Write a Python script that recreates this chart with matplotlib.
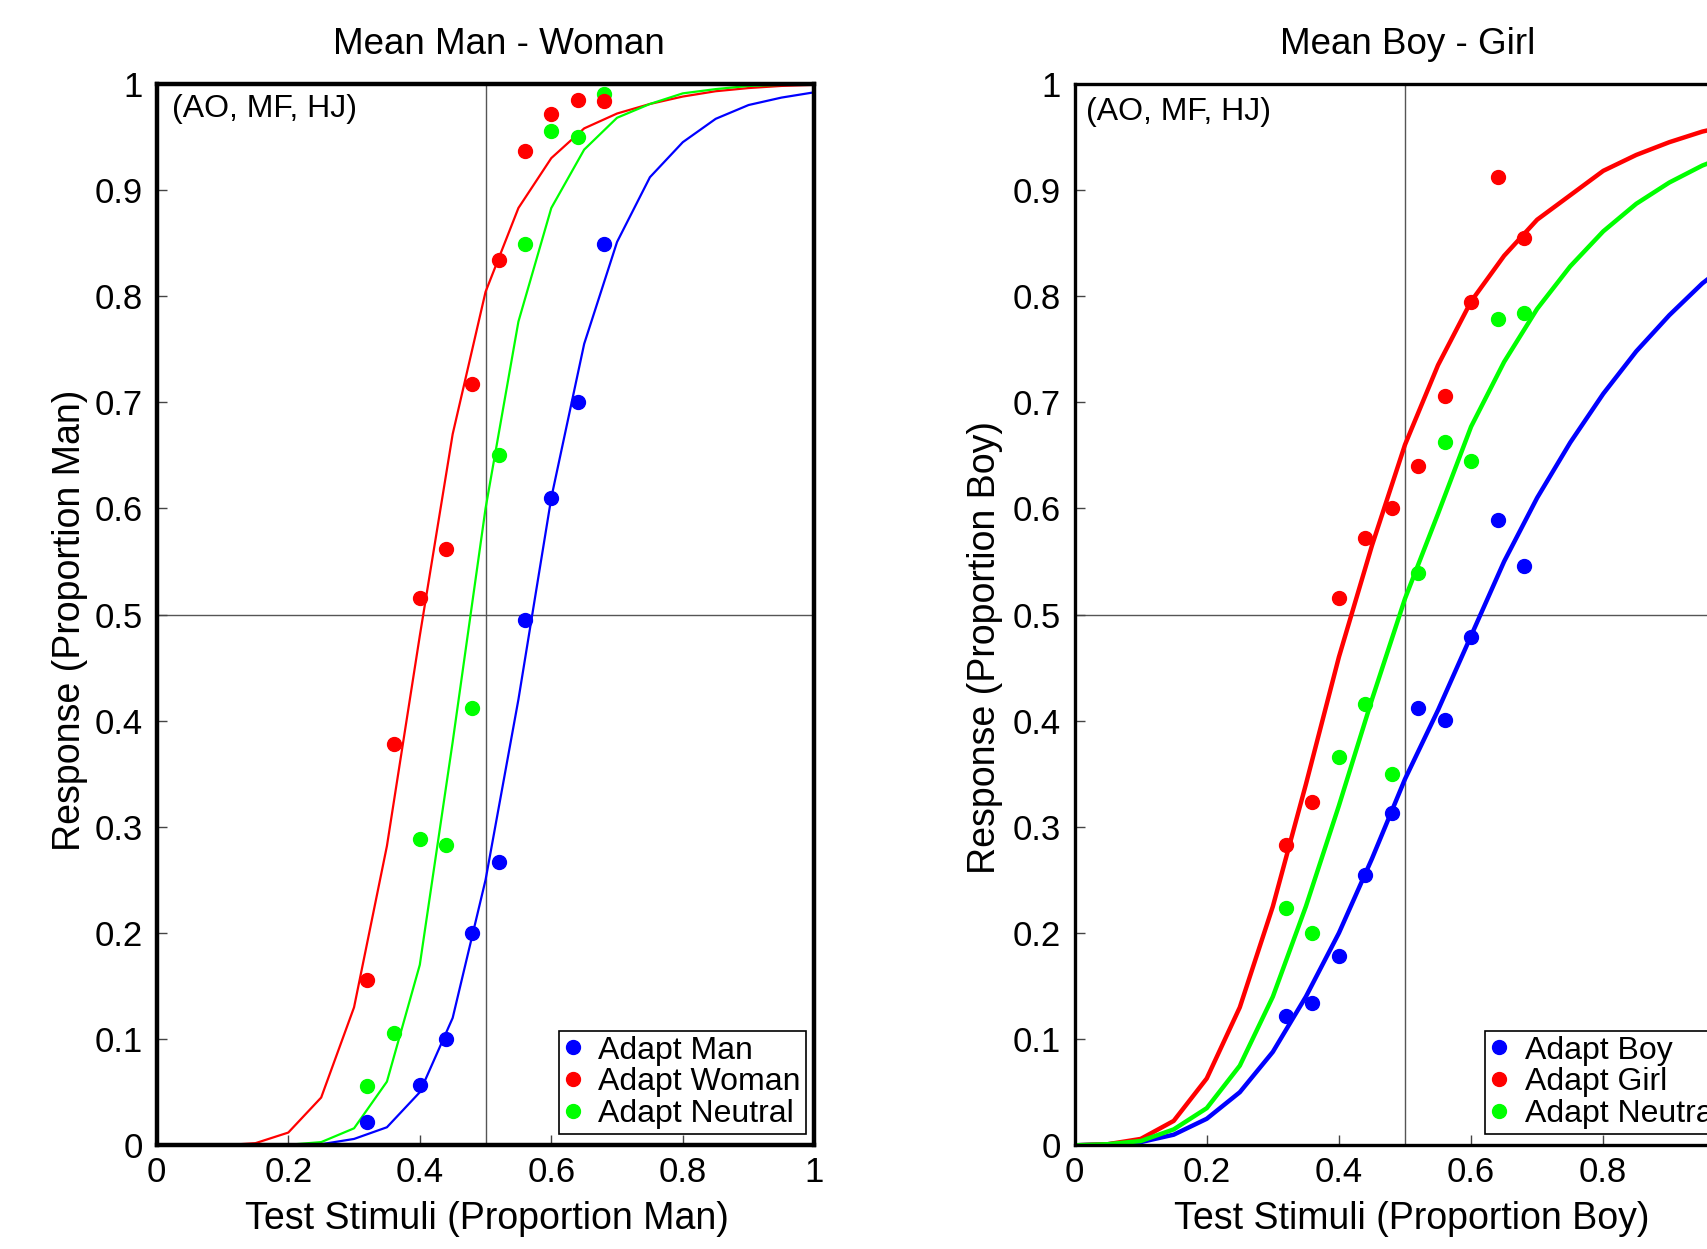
import matplotlib
matplotlib.use("Agg")
import matplotlib.pyplot as plt
from matplotlib.lines import Line2D

plt.rcParams['font.family'] = ['Liberation Sans', 'DejaVu Sans']

# ---------------- data ----------------
test_x = [0.32, 0.36, 0.40, 0.44, 0.48, 0.52, 0.56, 0.60, 0.64, 0.68]
fit_x = [0.00, 0.05, 0.10, 0.15, 0.20, 0.25, 0.30, 0.35, 0.40, 0.45, 0.50,
         0.55, 0.60, 0.65, 0.70, 0.75, 0.80, 0.85, 0.90, 0.95, 1.00]

# Panel 1: Man - Woman
man_x = [0.32, 0.40, 0.44, 0.48, 0.52, 0.56, 0.60, 0.64, 0.68]
man_pts = [0.022, 0.057, 0.100, 0.200, 0.267, 0.495, 0.610, 0.700, 0.849]
woman_pts = [0.156, 0.378, 0.516, 0.562, 0.717, 0.834, 0.937, 0.972, 0.985, 0.984]
neutral1_pts = [0.056, 0.106, 0.289, 0.283, 0.412, 0.650, 0.849, 0.956, 0.950, 0.990]

man_fit = [0, 0, 0, 0, 0, 0.001, 0.006, 0.017, 0.050, 0.120, 0.250,
           0.420, 0.610, 0.755, 0.851, 0.912, 0.945, 0.967, 0.980, 0.987, 0.992]
woman_fit = [0, 0, 0, 0.002, 0.012, 0.045, 0.130, 0.282, 0.480, 0.670, 0.804,
             0.883, 0.930, 0.958, 0.972, 0.981, 0.988, 0.993, 0.996, 0.998, 0.999]
neutral1_fit = [0, 0, 0, 0, 0.0005, 0.003, 0.016, 0.060, 0.170, 0.380, 0.600,
                0.776, 0.883, 0.938, 0.968, 0.981, 0.991, 0.995, 0.998, 0.999, 1.0]

# Panel 2: Boy - Girl
boy_pts = [0.122, 0.134, 0.178, 0.255, 0.313, 0.412, 0.401, 0.479, 0.589, 0.546]
girl_pts = [0.283, 0.323, 0.516, 0.572, 0.600, 0.640, 0.706, 0.794, 0.912, 0.855]
neutral2_pts = [0.224, 0.200, 0.366, 0.416, 0.350, 0.539, 0.663, 0.645, 0.778, 0.784]

boy_fit = [0, 0.001, 0.003, 0.010, 0.025, 0.050, 0.088, 0.140, 0.200, 0.270, 0.345,
           0.410, 0.480, 0.550, 0.610, 0.662, 0.708, 0.748, 0.782, 0.812, 0.836]
girl_fit = [0, 0.001, 0.006, 0.023, 0.063, 0.130, 0.225, 0.340, 0.460, 0.565, 0.660,
            0.735, 0.795, 0.838, 0.872, 0.895, 0.918, 0.933, 0.945, 0.955, 0.962]
neutral2_fit = [0, 0.001, 0.004, 0.015, 0.035, 0.075, 0.140, 0.225, 0.320, 0.420, 0.515,
                0.595, 0.677, 0.738, 0.788, 0.828, 0.861, 0.887, 0.907, 0.923, 0.935]

xticks = [0, 0.2, 0.4, 0.6, 0.8, 1.0]
xticklabels1 = ['0', '0.2', '0.4', '0.6', '0.8', '1']
xticklabels2 = ['0', '0.2', '0.4', '0.6', '0.8', '']   # "1" falls outside the figure
yticks = [0, 0.1, 0.2, 0.3, 0.4, 0.5, 0.6, 0.7, 0.8, 0.9, 1.0]
yticklabels = ['0', '0.1', '0.2', '0.3', '0.4', '0.5', '0.6', '0.7', '0.8', '0.9', '1']

BLUE, RED, GREEN = '#0000ff', '#ff0000', '#00ff00'

fig = plt.figure(figsize=(17.07, 12.49), dpi=100)
W, H = 1707.0, 1249.0


def make_axes(left_px, right_px, top_px, bottom_px):
    return fig.add_axes([left_px / W, 1 - bottom_px / H,
                         (right_px - left_px) / W, (bottom_px - top_px) / H])


ax1 = make_axes(156.8, 814.3, 83.8, 1145.3)
ax2 = make_axes(1074.6, 1735.4, 83.8, 1145.3)


def style(ax, spine_w, xlabels):
    ax.set_xlim(0, 1)
    ax.set_ylim(0, 1)
    ax.set_xticks(xticks)
    ax.set_xticklabels(xlabels)
    ax.set_yticks(yticks)
    ax.set_yticklabels(yticklabels)
    ax.tick_params(direction='in', length=7, width=1, color='#444444',
                   labelsize=25, top=False, right=False)
    ax.tick_params(axis='x', pad=8)
    ax.tick_params(axis='y', pad=10)
    for s in ax.spines.values():
        s.set_linewidth(spine_w)
        s.set_color('black')
    ax.axvline(0.5, color='#555555', lw=1.0, zorder=1)
    ax.axhline(0.5, color='#555555', lw=1.0, zorder=1)


style(ax1, 3.2, xticklabels1)
style(ax2, 2.4, xticklabels2)

# Panel 1
lw1 = 1.6
ax1.plot(fit_x, man_fit, color=BLUE, lw=lw1, zorder=2)
ax1.plot(fit_x, woman_fit, color=RED, lw=lw1, zorder=2)
ax1.plot(fit_x, neutral1_fit, color=GREEN, lw=lw1, zorder=2)
ms = 10
ax1.plot(test_x, neutral1_pts, 'o', color=GREEN, ms=ms, mec=GREEN, zorder=3)
ax1.plot(test_x, woman_pts, 'o', color=RED, ms=ms, mec=RED, zorder=3)
ax1.plot(man_x, man_pts, 'o', color=BLUE, ms=ms, mec=BLUE, zorder=3)

# Panel 2
lw2 = 3.2
ax2.plot(fit_x, boy_fit, color=BLUE, lw=lw2, zorder=2)
ax2.plot(fit_x, girl_fit, color=RED, lw=lw2, zorder=2)
ax2.plot(fit_x, neutral2_fit, color=GREEN, lw=lw2, zorder=2)
ax2.plot(test_x, neutral2_pts, 'o', color=GREEN, ms=ms, mec=GREEN, zorder=3)
ax2.plot(test_x, girl_pts, 'o', color=RED, ms=ms, mec=RED, zorder=3)
ax2.plot(test_x, boy_pts, 'o', color=BLUE, ms=ms, mec=BLUE, zorder=3)


def legend(ax, labels, loc, anchor):
    handles = [Line2D([], [], ls='none', marker='o', ms=ms, color=c, mec=c)
               for c in (BLUE, RED, GREEN)]
    leg = ax.legend(handles, labels, loc=loc, bbox_to_anchor=anchor,
                    fontsize=23, frameon=True, fancybox=False, framealpha=1,
                    edgecolor='black', borderpad=0.15, labelspacing=0.05,
                    handlelength=0.6, handletextpad=0.5, borderaxespad=0)
    leg.get_frame().set_linewidth(1.2)
    leg.set_zorder(5)


legend(ax1, ['Adapt Man', 'Adapt Woman', 'Adapt Neutral'], 'lower right', (0.987, 0.011))
legend(ax2, ['Adapt Boy', 'Adapt Girl', 'Adapt Neutral'], 'lower left', (0.621, 0.011))

# annotations
ax1.text(0.023, 0.976, '(AO, MF, HJ)', transform=ax1.transAxes, fontsize=23,
         ha='left', va='center')
ax2.text(0.018, 0.973, '(AO, MF, HJ)', transform=ax2.transAxes, fontsize=23,
         ha='left', va='center')

# titles
ax1.text(0.52, 1.037, 'Mean Man - Woman', transform=ax1.transAxes, fontsize=26.5,
         ha='center', va='center')
ax2.text(0.5045, 1.037, 'Mean Boy - Girl', transform=ax2.transAxes, fontsize=26.5,
         ha='center', va='center')

# axis labels
ax1.set_xlabel('Test Stimuli (Proportion Man)', fontsize=27)
ax1.xaxis.label.set_va('center')
ax1.xaxis.set_label_coords(0.5016, -0.0697)
ax1.set_ylabel('Response (Proportion Man)', fontsize=27)
ax1.yaxis.label.set_va('center')
ax1.yaxis.set_label_coords(-0.132, 0.495)

ax2.set_xlabel('Test Stimuli (Proportion Boy)', fontsize=27)
ax2.xaxis.label.set_va('center')
ax2.xaxis.set_label_coords(0.51, -0.0697)
ax2.set_ylabel('Response (Proportion Boy)', fontsize=27)
ax2.yaxis.label.set_va('center')
ax2.yaxis.set_label_coords(-0.135, 0.469)

fig.savefig('out.png', dpi=100)
